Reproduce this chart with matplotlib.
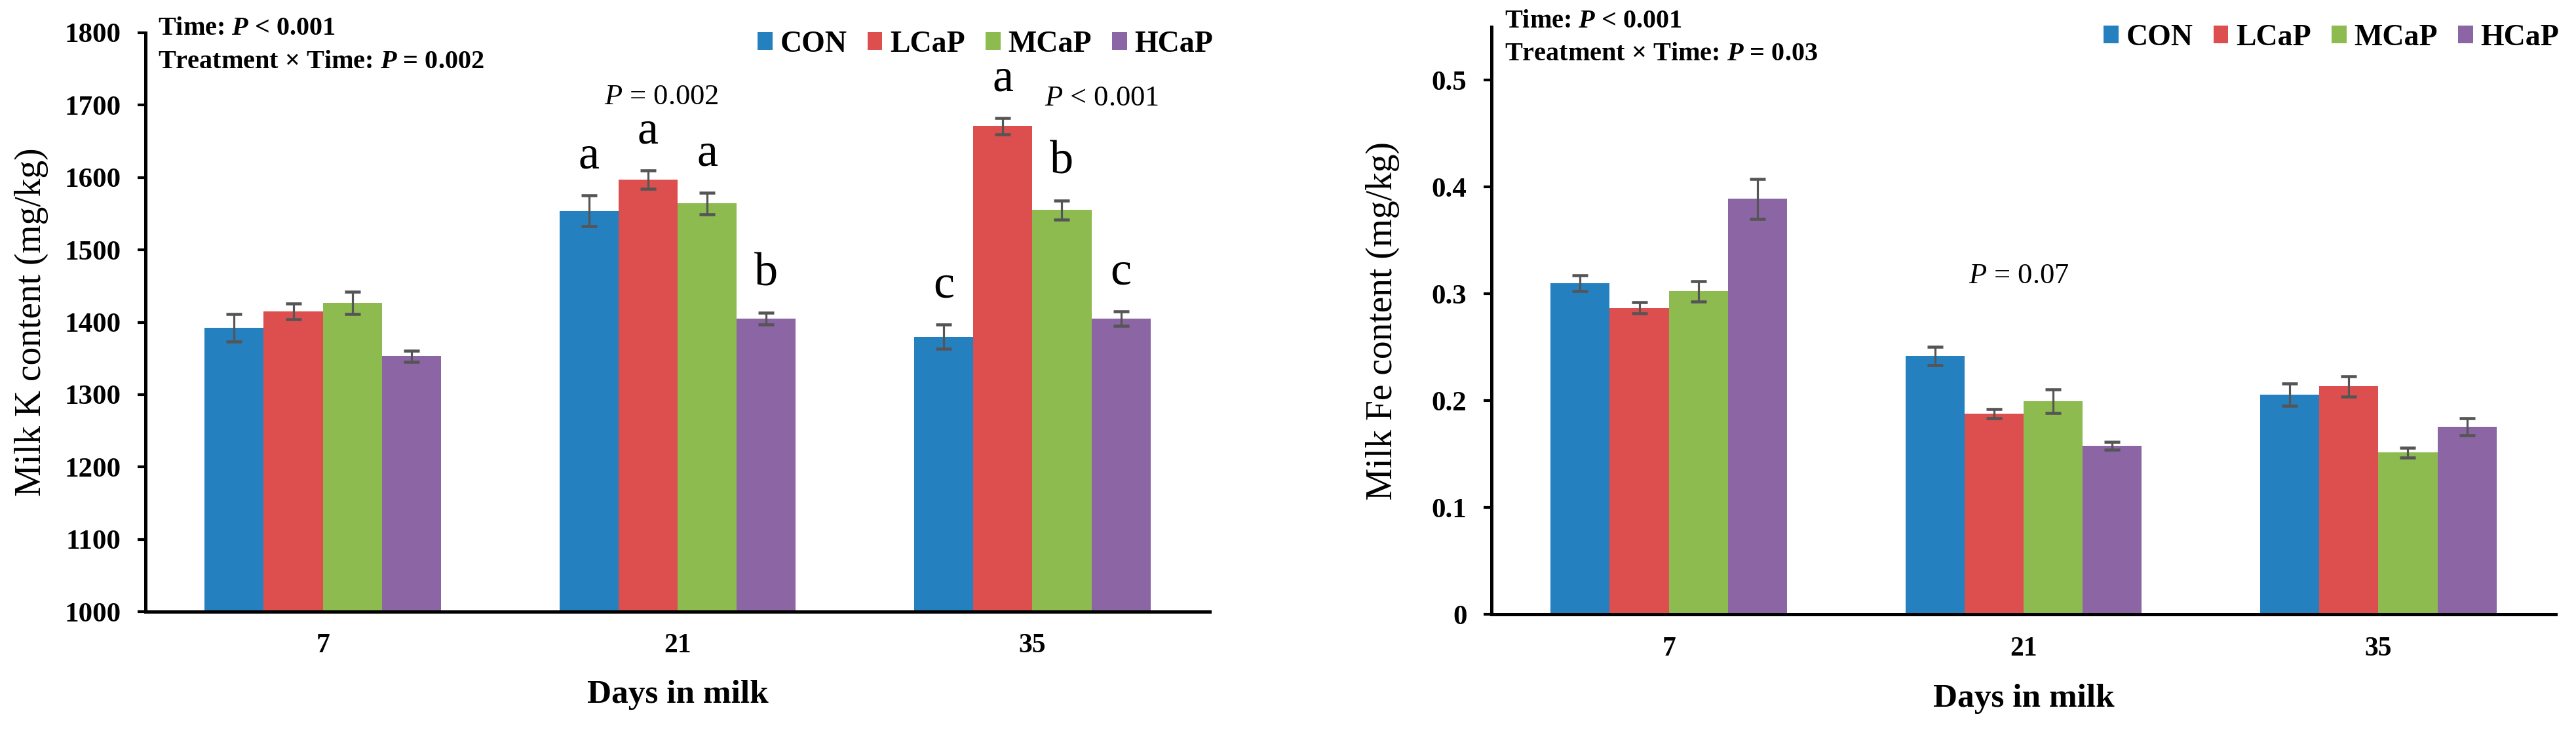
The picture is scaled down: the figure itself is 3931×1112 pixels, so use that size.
import numpy as np
import matplotlib
matplotlib.use("Agg")
import matplotlib.pyplot as plt

plt.rcParams['font.family'] = ['Liberation Serif', 'DejaVu Serif']
plt.rcParams['mathtext.fontset'] = 'custom'
plt.rcParams['mathtext.rm'] = 'Liberation Serif'
plt.rcParams['mathtext.it'] = 'Liberation Serif:italic'
plt.rcParams['mathtext.bf'] = 'Liberation Serif:bold'
plt.rcParams['mathtext.bfit'] = 'Liberation Serif:bold:italic'

days = ['7', '21', '35']
groups = ['CON', 'LCaP', 'MCaP', 'HCaP']
colors = ['#2580C0', '#DD4F4F', '#8DBB50', '#8B65A4']

# milk K (mg/kg), rows = group, cols = day
k_mean = [[1392, 1554, 1380],
          [1415, 1597, 1671],
          [1427, 1564, 1555],
          [1353, 1405, 1405]]
k_err = [[19, 21, 17],
         [11, 12.5, 11.5],
         [15.5, 15, 13],
         [7.7, 8, 10]]
k_letters = [['', 'a', 'c'],
             ['', 'a', 'a'],
             ['', 'a', 'b'],
             ['', 'b', 'c']]
k_pvals = ['', '$P$ = 0.002', '$P$ < 0.001']

# milk Fe (mg/kg)
fe_mean = [[0.310, 0.242, 0.206],
           [0.287, 0.188, 0.2135],
           [0.3025, 0.1996, 0.1516],
           [0.389, 0.158, 0.176]]
fe_err = [[0.0073, 0.0087, 0.0104],
          [0.005, 0.0043, 0.0095],
          [0.0095, 0.011, 0.0047],
          [0.0186, 0.0037, 0.008]]
fe_pvals = ['', '$P$ = 0.07', '']

W, H = 3931, 1112
fig = plt.figure(figsize=(W / 100, H / 100), dpi=100)

def px(x0, y0, x1, y1):
    return [x0 / W, 1 - y1 / H, (x1 - x0) / W, (y1 - y0) / H]

ax1 = fig.add_axes(px(222, 50, 1846, 933))
ax2 = fig.add_axes(px(2276, 41, 3900, 937.4))

bw = 0.1667
x = np.arange(len(days))


def draw(ax, means, errs, ylim, yticks, ylabels, ylabel, label_x):
    for i, g in enumerate(groups):
        ax.bar(x + (i - 1.5) * bw, means[i], bw, color=colors[i], label=g,
               yerr=errs[i], ecolor='#555555',
               error_kw=dict(elinewidth=2.3, capsize=8.5, capthick=3.3))
    ax.set_xlim(-0.5, 2.5)
    ax.set_ylim(*ylim)
    ax.set_yticks(yticks)
    ax.set_yticklabels(ylabels, fontsize=31, fontweight='bold')
    ax.set_xticks(x)
    ax.set_xticklabels(days, fontsize=30, fontweight='bold')
    ax.tick_params(axis='x', length=0, pad=24)
    ax.tick_params(axis='y', direction='out', length=9, width=3, pad=18)
    for s in ['top', 'right']:
        ax.spines[s].set_visible(False)
    for s in ['left', 'bottom']:
        ax.spines[s].set_linewidth(3.6)
    ax.set_ylabel(ylabel, fontsize=40)
    ax.yaxis.set_label_coords(label_x, 0.5)
    ax.set_xlabel('Days in milk', fontsize=37, fontweight='bold')
    ax.xaxis.set_label_coords(0.5, -0.118)


k_ticks = np.arange(1000, 1801, 100)
draw(ax1, k_mean, k_err, (1000, 1800), k_ticks, [str(t) for t in k_ticks],
     'Milk K content (mg/kg)', -0.091)
fe_ticks = np.arange(0, 0.51, 0.1)
draw(ax2, fe_mean, fe_err, (0, 0.55), fe_ticks,
     ['%g' % round(t, 1) for t in fe_ticks], 'Milk Fe content (mg/kg)', -0.086)

# significance letters
for i in range(len(groups)):
    for j in range(len(days)):
        if k_letters[i][j]:
            ax1.annotate(k_letters[i][j], (x[j] + (i - 1.5) * bw, k_mean[i][j] + k_err[i][j]),
                         xytext=(0, 30), textcoords='offset points',
                         ha='center', va='baseline', fontsize=52)

k_pos = [(None, None), (0.955, 1711), (2.196, 1709)]
for j, p in enumerate(k_pvals):
    if p:
        ax1.text(k_pos[j][0], k_pos[j][1], p, ha='center', va='center', fontsize=32)
fe_pos = [(None, None), (0.987, 0.317), (None, None)]
for j, p in enumerate(fe_pvals):
    if p:
        ax2.text(fe_pos[j][0], fe_pos[j][1], p, ha='center', va='center', fontsize=32)

# main effect text
fig.text(241 / W, 1 - 53 / H, r'Time: $\mathbfit{P}$ < 0.001', fontsize=29,
         fontweight='bold', va='baseline')
fig.text(241 / W, 1 - 104 / H, r'Treatment × Time: $\mathbfit{P}$ = 0.002', fontsize=29,
         fontweight='bold', va='baseline')
fig.text(2296 / W, 1 - 42 / H, r'Time: $\mathbfit{P}$ < 0.001', fontsize=29,
         fontweight='bold', va='baseline')
fig.text(2296 / W, 1 - 92 / H, r'Treatment × Time: $\mathbfit{P}$ = 0.03', fontsize=29,
         fontweight='bold', va='baseline')

leg_kw = dict(loc='center left', frameon=False, ncol=4, borderpad=0, borderaxespad=0,
              handlelength=0.5, handleheight=0.52, handletextpad=0.25, columnspacing=0.68,
              prop=dict(family='Liberation Serif', weight='bold', size=33))
ax1.legend(bbox_to_anchor=(1156 / W, 1 - 68 / H), bbox_transform=fig.transFigure, **leg_kw)
ax2.legend(bbox_to_anchor=(3210 / W, 1 - 58 / H), bbox_transform=fig.transFigure, **leg_kw)

fig.savefig('out.png', dpi=100)
